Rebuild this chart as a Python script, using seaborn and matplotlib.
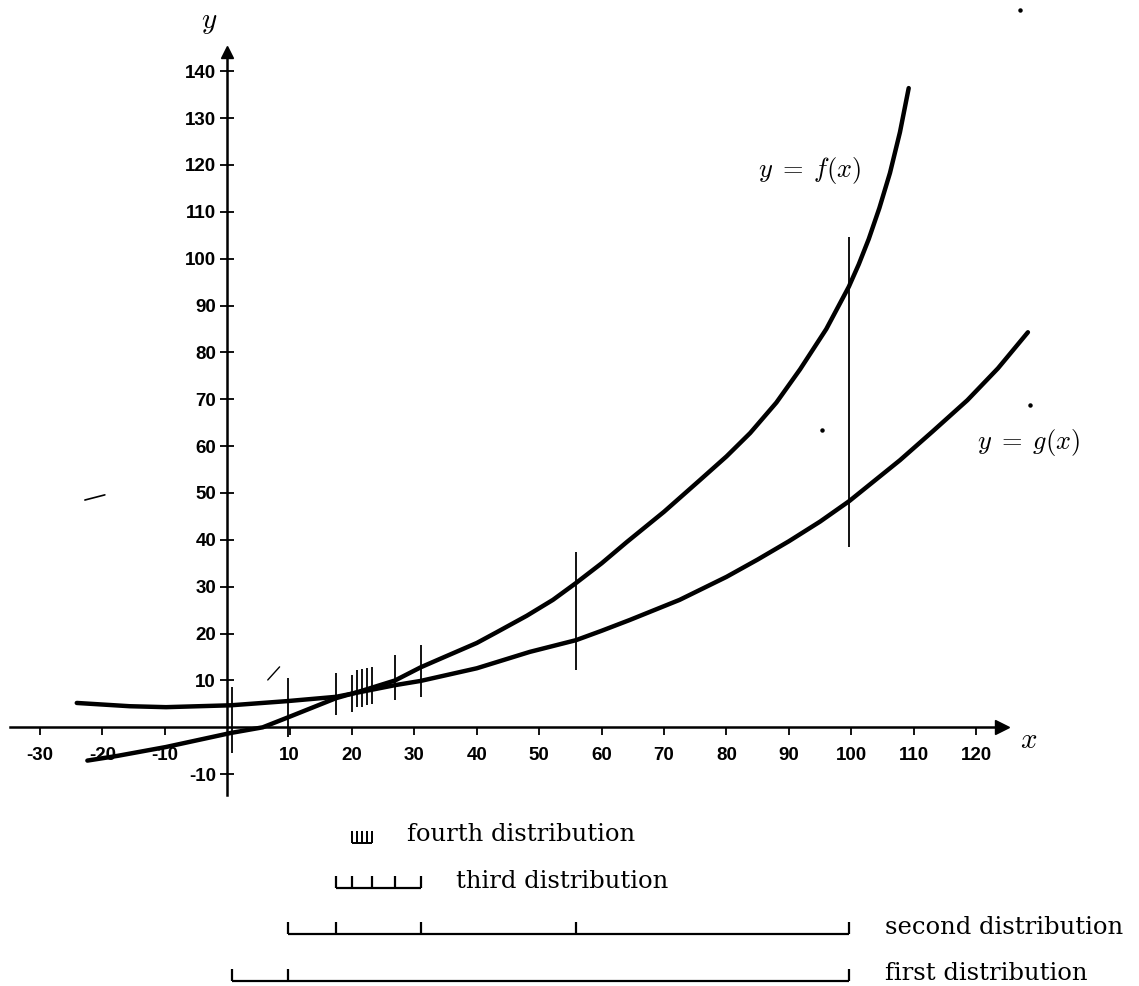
import matplotlib
matplotlib.use("Agg")
import matplotlib.pyplot as plt
import seaborn as sns
import pandas as pd

# ---------------- data ----------------
f_x = [-22.4, -17.6, -9.8, 0.6, 5.7, 9.7, 17.4, 21.6, 26.9, 31.0, 34.1, 40.0, 43.2,
       48.0, 52.2, 55.9, 60.0, 64.0, 70.0, 75.7, 80.0, 83.8, 88.0, 91.8, 96.0,
       99.6, 101.2, 102.8, 104.5, 106.2, 107.8, 109.2]
f_y = [-7.1, -6.1, -4.2, -1.2, 0.0, 2.1, 6.2, 7.8, 10.0, 12.8, 14.6, 18.0, 20.3,
       23.8, 27.2, 30.8, 35.0, 39.5, 46.0, 52.7, 57.8, 62.8, 69.3, 76.4, 85.0,
       94.0, 98.8, 104.2, 110.8, 118.3, 127.0, 136.4]

g_x = [-24.1, -15.6, -9.8, 0.6, 9.7, 17.4, 21.6, 26.9, 31.0, 40.0, 48.5, 55.9,
       60.0, 64.5, 72.5, 80.0, 85.0, 90.0, 95.0, 99.7, 107.8, 113.0, 118.6,
       123.5, 128.3]
g_y = [5.2, 4.5, 4.3, 4.7, 5.6, 6.5, 7.6, 9.0, 9.9, 12.6, 16.1, 18.6,
       20.6, 22.9, 27.2, 32.1, 35.8, 39.7, 43.9, 48.3, 57.0, 63.1, 69.8,
       76.6, 84.3]

# vertical partition markers on the plot
marker_x = [0.75, 9.7, 17.4, 20.0, 20.8, 21.6, 22.4, 23.2, 26.9, 31.0, 55.9, 99.6]
marker_top = [8.7, 10.5, 11.6, 11.2, 12.2, 12.4, 12.6, 12.8, 15.4, 17.6, 37.4, 104.6]
marker_bottom = [-5.5, -2.1, 2.6, 3.3, 4.4, 4.4, 4.8, 5.0, 5.8, 6.5, 12.2, 38.5]

# distributions (bracket tick positions)
first_dist = [0.75, 9.7, 99.6]
second_dist = [9.7, 17.4, 31.0, 55.9, 99.6]
third_dist = [17.4, 20.0, 23.2, 26.9, 31.0]
fourth_dist = [20.0, 20.8, 21.6, 22.4, 23.2]
dist_names = ["first distribution", "second distribution",
              "third distribution", "fourth distribution"]

x_ticks = [-30, -20, -10, 10, 20, 30, 40, 50, 60, 70, 80, 90, 100, 110, 120]
y_ticks = [-10, 10, 20, 30, 40, 50, 60, 70, 80, 90, 100, 110, 120, 130, 140]

# ---------------- style ----------------
sns.set_theme(style="white")
plt.rcParams["font.family"] = ["DejaVu Sans"]
plt.rcParams["mathtext.fontset"] = "cm"
plt.rcParams["text.color"] = "black"

fig = plt.figure(figsize=(11.39, 9.86), dpi=100)
ax = fig.add_axes([0, 0, 1, 1])
ax.set_facecolor("white")

df_f = pd.DataFrame({"x": f_x, "y": f_y})
df_g = pd.DataFrame({"x": g_x, "y": g_y})
sns.lineplot(data=df_f, x="x", y="y", ax=ax, color="black", lw=3.2,
             sort=False, estimator=None, solid_capstyle="round",
             solid_joinstyle="round")
sns.lineplot(data=df_g, x="x", y="y", ax=ax, color="black", lw=3.2,
             sort=False, estimator=None, solid_capstyle="round",
             solid_joinstyle="round")

ax.vlines(marker_x, marker_bottom, marker_top, color="black", lw=1.3)

# axes through origin
ax.set_xlim(-36.4, 146.1)
ax.set_ylim(-55.2, 155.2)
for s in ["top", "right"]:
    ax.spines[s].set_visible(False)
ax.spines["left"].set_position(("data", 0))
ax.spines["bottom"].set_position(("data", 0))
ax.spines["left"].set_bounds(-14.4, 144.0)
ax.spines["bottom"].set_bounds(-34.8, 124.0)
for s in ["left", "bottom"]:
    ax.spines[s].set_color("black")
    ax.spines[s].set_linewidth(1.8)
ax.plot([124.2], [0], marker=">", ms=10, color="black", clip_on=False)
ax.plot([0], [144.2], marker="^", ms=9, color="black", clip_on=False)

ax.set_xticks(x_ticks)
ax.set_xticklabels([str(t) for t in x_ticks], fontweight="bold",
                   fontfamily="Liberation Sans", fontsize=13.5)
ax.set_yticks(y_ticks)
ax.set_yticklabels([str(t) for t in y_ticks], fontweight="bold",
                   fontfamily="Liberation Sans", fontsize=13.5)
ax.tick_params(axis="x", bottom=True, direction="out", length=6, width=1.3,
               pad=8, colors="black")
ax.tick_params(axis="y", left=True, direction="inout", length=10, width=1.3,
               pad=3, colors="black")
ax.set_xlabel("")
ax.set_ylabel("")

# axis names and curve labels
ax.text(127.0, -2.7, r"$x$", fontsize=21, ha="left", va="center", color="black")
ax.text(-2.9, 150.5, r"$y$", fontsize=21, ha="center", va="center", color="black")
ax.text(85.0, 118.9, r"$y\;=\;f(x)$", fontsize=19, ha="left", va="center",
        color="black")
ax.text(120.1, 60.7, r"$y\;=\;g(x)$", fontsize=19, ha="left", va="center",
        color="black")

# stray marks of the scan
ax.plot([-22.8, -19.6], [48.5, 49.6], color="black", lw=1.2)
ax.plot([6.5, 8.4], [10.1, 12.9], color="black", lw=1.0)
ax.plot([95.3, 128.6, 127.0], [63.4, 68.7, 153.0], ls="none", marker="o",
        ms=2.2, color="black")

# distribution brackets
def bracket(ticks, ybase, h, lw=1.6):
    ax.plot([ticks[0], ticks[-1]], [ybase, ybase], color="black", lw=lw,
            solid_capstyle="butt")
    ax.vlines(ticks, ybase, ybase + h, color="black", lw=lw)

bracket(first_dist, -54.1, 2.6)
bracket(second_dist, -44.1, 2.6)
bracket(third_dist, -34.3, 2.6)
bracket(fourth_dist, -24.6, 2.4, lw=1.4)

txt_kw = dict(fontsize=17.5, fontfamily="DejaVu Serif", ha="left",
              va="center", color="black")
ax.text(105.4, -52.6, dist_names[0], **txt_kw)
ax.text(105.4, -42.8, dist_names[1], **txt_kw)
ax.text(36.6, -33.0, dist_names[2], **txt_kw)
ax.text(28.8, -22.8, dist_names[3], **txt_kw)

fig.savefig("out.png", dpi=100, facecolor="white")
